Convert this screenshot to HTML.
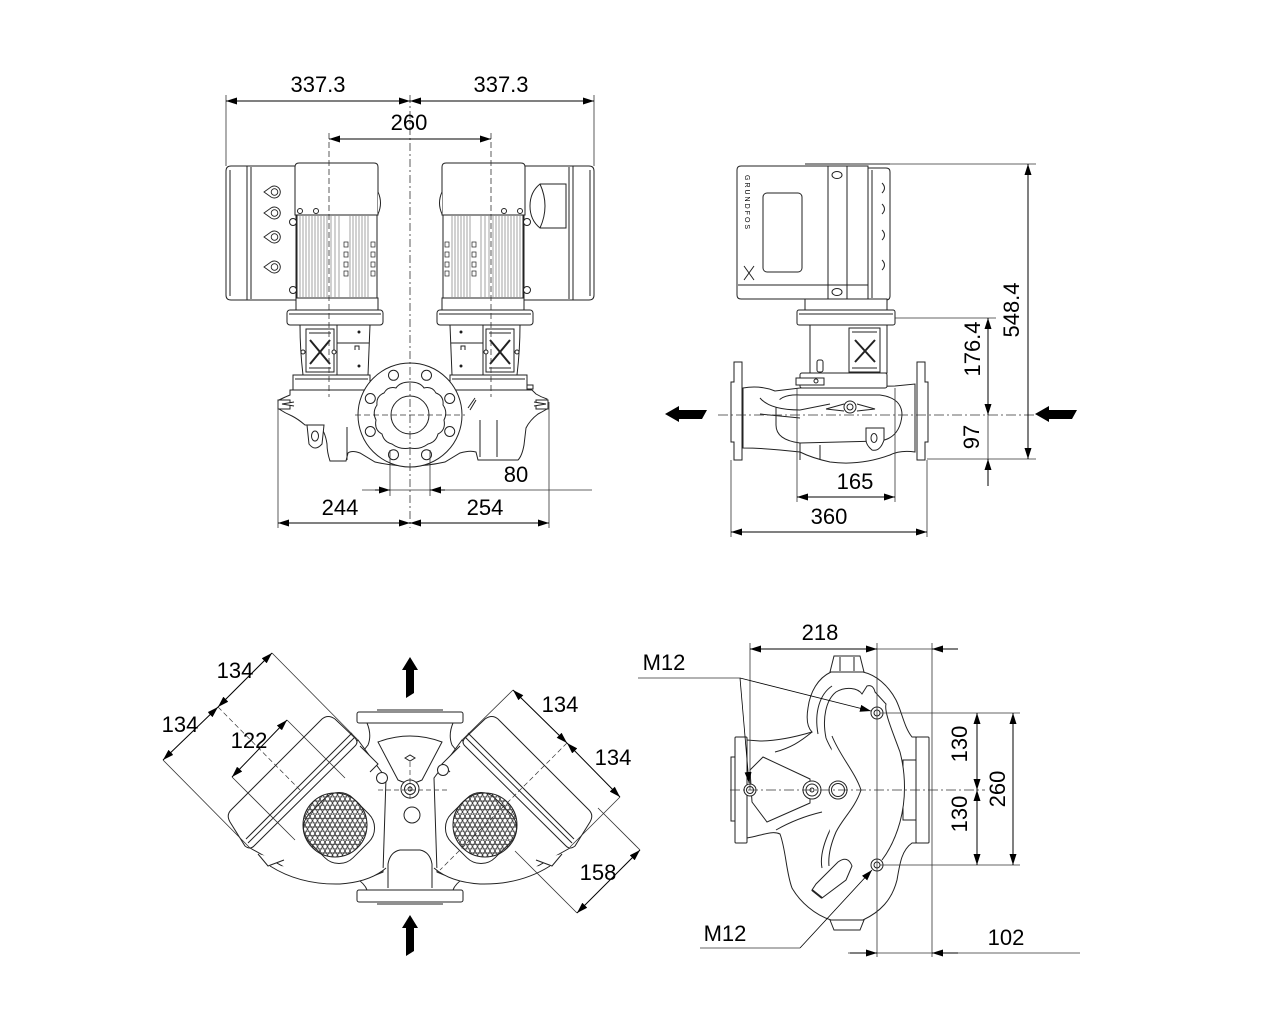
<!DOCTYPE html>
<html><head><meta charset="utf-8"><style>
html,body{margin:0;padding:0;background:#fff;}
svg{display:block;}
text{font-family:"Liberation Sans",Arial,sans-serif;font-size:22px;fill:#000;}
</style></head><body>
<svg width="1280" height="1024" viewBox="0 0 1280 1024" xmlns="http://www.w3.org/2000/svg">
<defs>
<marker id="ar" viewBox="0 0 11 7" refX="11" refY="3.5" markerWidth="11" markerHeight="7" markerUnits="userSpaceOnUse" orient="auto-start-reverse"><path d="M0,0L11,3.5L0,7z" fill="#000"/></marker>
<pattern id="grill" width="5" height="8.66" patternUnits="userSpaceOnUse">
<circle cx="2.5" cy="2.165" r="2.2" fill="none" stroke="#333" stroke-width="0.8"/>
<circle cx="0" cy="6.495" r="2.2" fill="none" stroke="#333" stroke-width="0.8"/>
<circle cx="5" cy="6.495" r="2.2" fill="none" stroke="#333" stroke-width="0.8"/>
</pattern>
<g id="motorL">
<path d="M231,166 H248 V300 H231 Q226,300 226,295 V171 Q226,166 231,166 Z"/>
<line x1="230" y1="170" x2="230" y2="296"/>
<rect x="247" y="166" width="49" height="134"/>
<line x1="251" y1="167" x2="251" y2="299"/>
<path d="M295,215 V167 Q295,163 299,163 H374 Q378,163 378,167 V215 Z"/>
<path d="M378,192 Q383,203 378,214"/>
<rect x="297" y="215" width="80" height="83"/>
<g stroke="#666" stroke-width="0.6">
<line x1="300" y1="216" x2="300" y2="297"/><line x1="303" y1="216" x2="303" y2="297"/><line x1="306" y1="216" x2="306" y2="297"/><line x1="309" y1="216" x2="309" y2="297"/><line x1="312" y1="216" x2="312" y2="297"/><line x1="315" y1="216" x2="315" y2="297"/><line x1="318" y1="216" x2="318" y2="297"/><line x1="321" y1="216" x2="321" y2="297"/><line x1="324" y1="216" x2="324" y2="297"/><line x1="327" y1="216" x2="327" y2="297"/><line x1="331" y1="216" x2="331" y2="297"/><line x1="335" y1="216" x2="335" y2="297"/><line x1="339" y1="216" x2="339" y2="297"/><line x1="350" y1="216" x2="350" y2="297"/><line x1="353" y1="216" x2="353" y2="297"/><line x1="356" y1="216" x2="356" y2="297"/><line x1="359" y1="216" x2="359" y2="297"/><line x1="362" y1="216" x2="362" y2="297"/><line x1="365" y1="216" x2="365" y2="297"/><line x1="368" y1="216" x2="368" y2="297"/>
</g>
<g stroke-width="0.7"><rect x="344" y="242" width="4" height="5"/><rect x="344" y="252" width="4" height="5"/><rect x="344" y="262" width="4" height="5"/><rect x="344" y="271" width="4" height="5"/>
<rect x="371" y="242" width="4" height="5"/><rect x="371" y="252" width="4" height="5"/><rect x="371" y="262" width="4" height="5"/><rect x="371" y="271" width="4" height="5"/></g>
<circle cx="293" cy="222" r="3.5"/><circle cx="293" cy="290" r="3.5"/>
<circle cx="300" cy="211" r="2.5"/><circle cx="316" cy="211" r="2.5"/>
<rect x="296" y="298" width="82" height="12"/>
<rect x="287" y="310" width="96" height="15" rx="3"/>
<line x1="289" y1="314" x2="381" y2="314"/>
<path d="M300,325 H337 V375 H303 Q300,350 300,325Z"/>
<rect x="306" y="329" width="28" height="43"/>
<path d="M310,340 L330,364 M330,340 L310,364" stroke-width="2"/>
<line x1="309" y1="333" x2="331" y2="333"/><line x1="309" y1="368" x2="331" y2="368"/>
<circle cx="303" cy="352" r="2"/><circle cx="334" cy="352" r="2"/>
<path d="M337,325 H370 Q369,350 368,375 H337Z"/>
<line x1="337" y1="343" x2="369" y2="343"/>
<circle cx="359" cy="332" r="1" fill="#000"/><circle cx="359" cy="366" r="1" fill="#000"/>
<path d="M355,350 v-4 h4 v4"/>
<rect x="293" y="375" width="77" height="15"/>
<line x1="295" y1="379" x2="368" y2="379"/>
</g>
<g id="bmot">
<path d="M250,848 L293,872 Q338,892 383,872 L386,778 L358,740 Z"/>
<path d="M258,854 L268,866 L284,860" />
<path d="M360,746 L378,764 L370,772"/>
<path d="M270,866 Q300,885 340,884 Q370,882 386,868"/>
<rect x="308" y="797" width="62" height="62" rx="20" transform="rotate(45 339 828)"/>
<circle cx="335" cy="825" r="32" fill="url(#grill)"/>
<path d="M231,810 L322,719 Q328,714 335,719 L355,738 Q359,742 355,746 L254,846 Q250,850 245,846 L230,822 Q226,815 231,810Z"/>
<line x1="248" y1="843" x2="355" y2="737"/>
<line x1="246" y1="839" x2="352" y2="733"/>
</g>
</defs>

<!-- ============ FRONT VIEW ============ -->
<g fill="#fff" stroke="#222" stroke-width="1">
<path d="M290,390 H532 L536,394 Q541,397 547,399 V409 Q542,412 538,414 Q530,420 526,428 L524,445 Q522,456 518,460 H478 L476,452 Q470,450 460,453 L445,462 Q410,470 375,462 L360,453 Q352,450 348,453 L346,461 H330 Q327,452 327,444 Q325,430 318,425 H305 Q298,419 292,416 Q285,413 279,409 V400 Q285,397 290,395 Z"/>
<path d="M307,425 L324,425 L322,444 Q315,452 309,444 Z"/>
<ellipse cx="315" cy="436" rx="3.5" ry="5"/>
<line x1="347" y1="427" x2="347" y2="460"/>
<line x1="480" y1="420" x2="480" y2="457"/><line x1="497" y1="420" x2="497" y2="457"/>
<path d="M278,400 h12 v9 h-12z"/><path d="M536,400 h12 v9 h-12z"/>
<path d="M294,402 L282,404 L294,406"/><path d="M534,402 L546,404 L534,406"/>
<use href="#motorL"/>
<use href="#motorL" transform="matrix(-1 0 0 1 820 0)"/>
<g stroke-width="0.9">
<path d="M264,192 L271,187 A6,6 0 1 1 271,197 Z"/><circle cx="274.5" cy="192" r="3.3"/>
<path d="M264,213 L271,208 A6,6 0 1 1 271,218 Z"/><circle cx="274.5" cy="213" r="3.3"/>
<path d="M264,237 L271,232 A6,6 0 1 1 271,242 Z"/><circle cx="274.5" cy="237" r="3.3"/>
<path d="M264,267 L271,262 A6,6 0 1 1 271,272 Z"/><circle cx="274.5" cy="267" r="3.3"/>
</g>
<path d="M540,184 H566 V228 H540 Q530,220 530,206 Q530,192 540,184Z"/>
<path d="M540,184 Q550,206 540,228"/>
<path d="M527,385 h6 v4 h-6z"/>
<circle cx="410" cy="415" r="52"/>
<path d="M410,382 Q420,382 424,388 Q432,386 436,393 Q444,396 443,405 Q448,412 444,420 Q446,430 438,434 Q436,442 428,444 Q420,450 410,448 Q400,450 392,444 Q384,442 382,434 Q374,430 376,420 Q372,412 377,405 Q376,396 384,393 Q388,386 396,388 Q400,382 410,382Z"/>
<circle cx="410" cy="415" r="19"/>
<circle cx="393.5" cy="375.3" r="5"/><circle cx="426.5" cy="375.3" r="5"/>
<circle cx="370.3" cy="398.5" r="5"/><circle cx="449.7" cy="398.5" r="5"/>
<circle cx="370.3" cy="431.5" r="5"/><circle cx="449.7" cy="431.5" r="5"/>
<circle cx="393.5" cy="454.7" r="5"/><circle cx="426.5" cy="454.7" r="5"/>
<path d="M468,408 L475,398 M470,410 L476,400"/>
</g>
<g stroke="#333" stroke-width="0.8" fill="none">
<line x1="410" y1="95" x2="410" y2="528" stroke-dasharray="8,3,2,3"/>
<line x1="329" y1="133" x2="329" y2="397" stroke-dasharray="6,3"/>
<line x1="491" y1="133" x2="491" y2="397" stroke-dasharray="6,3"/>
<line x1="355" y1="415" x2="465" y2="415" stroke-dasharray="6,3"/>
<line x1="226" y1="95" x2="226" y2="166"/>
<line x1="594" y1="95" x2="594" y2="166"/>
<line x1="278" y1="402" x2="278" y2="528"/>
<line x1="549" y1="402" x2="549" y2="528"/>
<line x1="390" y1="450" x2="390" y2="496"/>
<line x1="430" y1="450" x2="430" y2="496"/>
<line x1="362" y1="490" x2="592" y2="490"/>
</g>
<g stroke="#000" stroke-width="1" fill="none">
<line x1="226" y1="101" x2="410" y2="101" marker-start="url(#ar)" marker-end="url(#ar)"/>
<line x1="410" y1="101" x2="594" y2="101" marker-start="url(#ar)" marker-end="url(#ar)"/>
<line x1="329" y1="139" x2="491" y2="139" marker-start="url(#ar)" marker-end="url(#ar)"/>
<line x1="278" y1="523" x2="410" y2="523" marker-start="url(#ar)" marker-end="url(#ar)"/>
<line x1="410" y1="523" x2="549" y2="523" marker-start="url(#ar)" marker-end="url(#ar)"/>
<line x1="375" y1="490" x2="390" y2="490" marker-end="url(#ar)"/>
<line x1="445" y1="490" x2="430" y2="490" marker-end="url(#ar)"/>
</g>
<text x="318" y="92" text-anchor="middle">337.3</text>
<text x="501" y="92" text-anchor="middle">337.3</text>
<text x="409" y="130" text-anchor="middle">260</text>
<text x="516" y="482" text-anchor="middle">80</text>
<text x="340" y="515" text-anchor="middle">244</text>
<text x="485" y="515" text-anchor="middle">254</text>

<!-- ============ SIDE VIEW ============ -->
<g fill="#fff" stroke="#222" stroke-width="1">
<path d="M743,388 Q760,385 775,391 L800,388 L895,386 L915,384 V452 Q900,450 890,455 Q860,466 830,462 Q812,458 800,452 L780,450 Q760,448 743,448 Z"/>
<path d="M776,405 Q780,394 800,395 L880,395 Q902,398 902,415 Q900,438 880,441 L800,443 Q776,440 776,425 Z"/>
<path d="M760,398 Q770,410 800,410 L830,404 M760,414 L800,418"/>
<path d="M826,409 L844,404 M857,404 L875,409 L857,411 M844,411 L826,409"/>
<circle cx="850" cy="407" r="6"/><circle cx="850" cy="407" r="3"/>
<path d="M866,428 H884 V440 Q880,452 872,450 Q866,445 866,440Z"/>
<ellipse cx="874" cy="438" rx="3" ry="4.5"/>
<path d="M800,443 L800,460 M820,445 L820,460"/>
<path d="M734,362 H742 V460 H734 V442 H731 V382 H734Z"/>
<path d="M917,362 H925 V382 H928 V442 H925 V460 H917Z"/>
<path d="M741,166 H868 V299 H741 Q737,299 737,295 V170 Q737,166 741,166Z"/>
<line x1="805" y1="164" x2="890" y2="164"/>
<line x1="828" y1="166" x2="828" y2="299"/><line x1="847" y1="166" x2="847" y2="299"/>
<line x1="738" y1="285" x2="868" y2="285"/>
<ellipse cx="837" cy="175" rx="5" ry="3.5"/><ellipse cx="837" cy="292" rx="5" ry="3.5"/>
<path d="M868,168 H886 Q890,168 890,172 V296 Q890,300 886,300 H868Z"/>
<line x1="872" y1="170" x2="872" y2="298"/>
<path d="M882,183 q5,5 0,10 M882,204 q5,5 0,10 M882,230 q5,5 0,10 M882,260 q5,5 0,10"/>
<rect x="763" y="193" width="39" height="79" rx="4"/>
<path d="M744,266 L754,280 M754,266 L744,280"/>
<rect x="805" y="299" width="82" height="11"/>
<rect x="797" y="310" width="98" height="15" rx="2"/>
<line x1="799" y1="314" x2="893" y2="314"/>
<rect x="810" y="325" width="77" height="48"/>
<rect x="849" y="328" width="31" height="44"/>
<path d="M855,340 L875,362 M875,340 L855,362" stroke-width="2"/>
<line x1="852" y1="332" x2="877" y2="332"/><line x1="852" y1="368" x2="877" y2="368"/>
<rect x="817" y="360" width="6" height="12" rx="2"/>
<rect x="800" y="373" width="87" height="15" rx="2"/>
<path d="M796,378 h28 v7 h-28z"/><circle cx="816" cy="381" r="2"/>
</g>
<text transform="translate(745,175) rotate(90)" style="font-size:7px;letter-spacing:2px" fill="#333">GRUNDFOS</text>
<g stroke="#333" stroke-width="0.8" fill="none">
<line x1="718" y1="415" x2="1035" y2="415" stroke-dasharray="10,3,2,3"/>
<line x1="850" y1="164" x2="1036" y2="164"/>
<line x1="895" y1="318" x2="996" y2="318"/>
<line x1="927" y1="459" x2="1036" y2="459"/>
<line x1="731" y1="460" x2="731" y2="537"/>
<line x1="927" y1="460" x2="927" y2="537"/>
<line x1="797" y1="388" x2="797" y2="502"/>
<line x1="895" y1="388" x2="895" y2="502"/>
<line x1="988" y1="415" x2="988" y2="459"/>
</g>
<g stroke="#000" stroke-width="1" fill="none">
<line x1="1028" y1="164" x2="1028" y2="459" marker-start="url(#ar)" marker-end="url(#ar)"/>
<line x1="988" y1="318" x2="988" y2="415" marker-start="url(#ar)" marker-end="url(#ar)"/>
<line x1="988" y1="486" x2="988" y2="459" marker-end="url(#ar)"/>
<line x1="797" y1="497" x2="895" y2="497" marker-start="url(#ar)" marker-end="url(#ar)"/>
<line x1="731" y1="532" x2="927" y2="532" marker-start="url(#ar)" marker-end="url(#ar)"/>
</g>
<polygon points="665,414 679,406 679,410 707,410 702,419 679,419 679,422" fill="#000"/>
<polygon points="1035,414 1049,406 1049,410 1077,410 1072,419 1049,419 1049,422" fill="#000"/>
<text transform="translate(1011,310) rotate(-90)" text-anchor="middle" dy="8">548.4</text>
<text transform="translate(972,349) rotate(-90)" text-anchor="middle" dy="8">176.4</text>
<text transform="translate(971,437) rotate(-90)" text-anchor="middle" dy="8">97</text>
<text x="855" y="489" text-anchor="middle">165</text>
<text x="829" y="524" text-anchor="middle">360</text>

<!-- ============ TOP VIEW (bottom left) ============ -->
<g fill="#fff" stroke="#222" stroke-width="1">
<path d="M367,723 H453 Q448,735 452,745 L464,760 L464,878 Q455,884 453,890 H367 Q365,884 356,878 L356,760 L368,745 Q372,735 367,723Z"/>
<rect x="357" y="712" width="106" height="11" rx="2"/>
<line x1="377" y1="710" x2="443" y2="710"/>
<rect x="357" y="890" width="106" height="12" rx="2"/>
<line x1="377" y1="904" x2="443" y2="904"/>
<path d="M378,742 Q410,730 442,742 L422,780 Q410,786 398,780 Z"/>
<path d="M388,888 V864 Q390,852 400,850 L420,850 Q430,852 432,864 V888"/>
<use href="#bmot"/>
<use href="#bmot" transform="matrix(-1 0 0 1 820 0)"/>
<circle cx="410" cy="789" r="9"/><circle cx="410" cy="789" r="5.5"/><circle cx="410" cy="789" r="2"/>
<circle cx="412" cy="815" r="8"/>
<circle cx="382" cy="778" r="5.5"/><circle cx="443" cy="770" r="5.5"/>
<path d="M405,758 L410,755 L415,758 L410,761Z"/>
</g>
<g stroke="#333" stroke-width="0.7" fill="none" stroke-dasharray="5,3">
<line x1="410" y1="762" x2="410" y2="800"/>
<line x1="378" y1="790" x2="450" y2="790"/>
<line x1="218" y1="707" x2="300" y2="790"/>
<line x1="567" y1="743" x2="440" y2="870"/>
</g>
<g stroke="#333" stroke-width="0.8" fill="none">
<line x1="272" y1="653" x2="358" y2="740"/>
<line x1="163" y1="760" x2="250" y2="848"/>
<line x1="287" y1="720" x2="345" y2="778"/>
<line x1="232" y1="777" x2="295" y2="840"/>
<line x1="513" y1="690" x2="462" y2="740"/>
<line x1="620" y1="797" x2="570" y2="847"/>
<line x1="640" y1="850" x2="598" y2="808"/>
<line x1="577" y1="913" x2="515" y2="851"/>
</g>
<g stroke="#000" stroke-width="1" fill="none">
<line x1="218" y1="707" x2="163" y2="760" marker-start="url(#ar)" marker-end="url(#ar)"/>
<line x1="218" y1="707" x2="272" y2="653" marker-start="url(#ar)" marker-end="url(#ar)"/>
<line x1="232" y1="777" x2="287" y2="720" marker-start="url(#ar)" marker-end="url(#ar)"/>
<line x1="567" y1="743" x2="513" y2="690" marker-start="url(#ar)" marker-end="url(#ar)"/>
<line x1="567" y1="743" x2="620" y2="797" marker-start="url(#ar)" marker-end="url(#ar)"/>
<line x1="640" y1="850" x2="577" y2="913" marker-start="url(#ar)" marker-end="url(#ar)"/>
</g>
<polygon points="410,657 402,670 406,670 406,698 414,693 414,670 418,670" fill="#000"/>
<polygon points="410,915 402,928 406,928 406,956 414,951 414,928 418,928" fill="#000"/>
<text x="235" y="678" text-anchor="middle">134</text>
<text x="180" y="732" text-anchor="middle">134</text>
<text x="249" y="748" text-anchor="middle">122</text>
<text x="560" y="712" text-anchor="middle">134</text>
<text x="613" y="765" text-anchor="middle">134</text>
<text x="598" y="880" text-anchor="middle">158</text>

<!-- ============ BOTTOM RIGHT VIEW ============ -->
<g fill="#fff" stroke="#222" stroke-width="1">
<path d="M831,672 C818,678 810,692 808,708 C806,720 808,728 812,732 C795,737 775,741 760,741 L747,740 L747,838 C760,836 772,830 780,834 C786,850 786,872 792,888 C800,902 815,915 831,920 L863,920 C880,912 892,900 897,880 C900,862 902,850 912,843 L916,843 L916,737 L912,737 C904,727 902,712 896,700 C888,685 876,675 863,672 Z"/>
<path d="M830,672 L834,656 H860 L864,672 Z"/>
<path d="M840,657 V671 M854,657 V671"/>
<path d="M830,920 L834,930 H860 L864,920 Z"/>
<rect x="735" y="737" width="12" height="106" rx="1"/>
<rect x="731" y="757" width="4" height="64"/>
<rect x="916" y="737" width="13" height="106" rx="1"/>
<rect x="903" y="760" width="13" height="60"/>
<path d="M826,738 C822,718 826,700 836,692 C846,686 858,688 862,694 L867,686 Q873,684 875,692 L886,704 C884,712 892,730 900,752 C906,775 906,800 900,822 C895,840 888,852 882,860"/>
<path d="M818,734 C814,712 820,694 832,686"/>
<path d="M826,738 C834,758 850,772 856,790 C850,806 838,815 830,830 C823,845 820,858 822,868"/>
<path d="M832,736 C840,756 855,772 861,790 C855,808 843,818 836,832 C830,846 828,856 829,866"/>
<path d="M812,732 C800,742 790,748 775,752"/>
<path d="M776,830 C790,822 805,816 822,812"/>
<path d="M763,757 L810,779 L810,803 L767,822 L752,802 L750,770 Z"/>
<path d="M812,890 L816,884 L838,862 Q848,855 852,866 L846,880 L822,898 Z"/>
<line x1="812" y1="890" x2="822" y2="898" stroke-width="2"/>
<circle cx="750" cy="790" r="6"/><circle cx="750" cy="790" r="3.5"/>
<circle cx="812" cy="790" r="9"/><circle cx="812" cy="790" r="6"/><circle cx="812" cy="790" r="2"/>
<circle cx="838" cy="790" r="9"/><circle cx="838" cy="790" r="6.5"/>
<circle cx="877" cy="713" r="6"/><circle cx="877" cy="713" r="3"/>
<circle cx="877" cy="865" r="6"/><circle cx="877" cy="865" r="3"/>
</g>
<g stroke="#333" stroke-width="0.8" fill="none">
<line x1="730" y1="790" x2="985" y2="790" stroke-dasharray="10,3,2,3"/>
<line x1="750" y1="643" x2="750" y2="790"/>
<line x1="877" y1="643" x2="877" y2="957"/>
<line x1="932" y1="643" x2="932" y2="957"/>
<line x1="880" y1="713" x2="1020" y2="713"/>
<line x1="880" y1="865" x2="1020" y2="865"/>
<line x1="877" y1="649" x2="958" y2="649"/>
<line x1="848" y1="953" x2="1080" y2="953"/>
<line x1="638" y1="678" x2="740" y2="678"/>
<line x1="700" y1="948" x2="800" y2="948"/>
</g>
<g stroke="#000" stroke-width="1" fill="none">
<line x1="750" y1="649" x2="877" y2="649" marker-start="url(#ar)" marker-end="url(#ar)"/>
<line x1="958" y1="649" x2="932" y2="649" marker-end="url(#ar)"/>
<line x1="977" y1="713" x2="977" y2="790" marker-start="url(#ar)" marker-end="url(#ar)"/>
<line x1="977" y1="790" x2="977" y2="865" marker-start="url(#ar)" marker-end="url(#ar)"/>
<line x1="1013" y1="713" x2="1013" y2="865" marker-start="url(#ar)" marker-end="url(#ar)"/>
<line x1="850" y1="953" x2="877" y2="953" marker-end="url(#ar)"/>
<line x1="958" y1="953" x2="932" y2="953" marker-end="url(#ar)"/>
<line x1="740" y1="678" x2="871" y2="711" marker-end="url(#ar)" stroke-width="0.8"/>
<line x1="740" y1="678" x2="749" y2="783" marker-end="url(#ar)" stroke-width="0.8"/>
<line x1="800" y1="948" x2="872" y2="870" marker-end="url(#ar)" stroke-width="0.8"/>
</g>
<text x="820" y="640" text-anchor="middle">218</text>
<text x="664" y="670" text-anchor="middle">M12</text>
<text x="725" y="941" text-anchor="middle">M12</text>
<text x="1006" y="945" text-anchor="middle">102</text>
<text transform="translate(959,744) rotate(-90)" text-anchor="middle" dy="8">130</text>
<text transform="translate(959,814) rotate(-90)" text-anchor="middle" dy="8">130</text>
<text transform="translate(997,789) rotate(-90)" text-anchor="middle" dy="8">260</text>
</svg>
</body></html>
